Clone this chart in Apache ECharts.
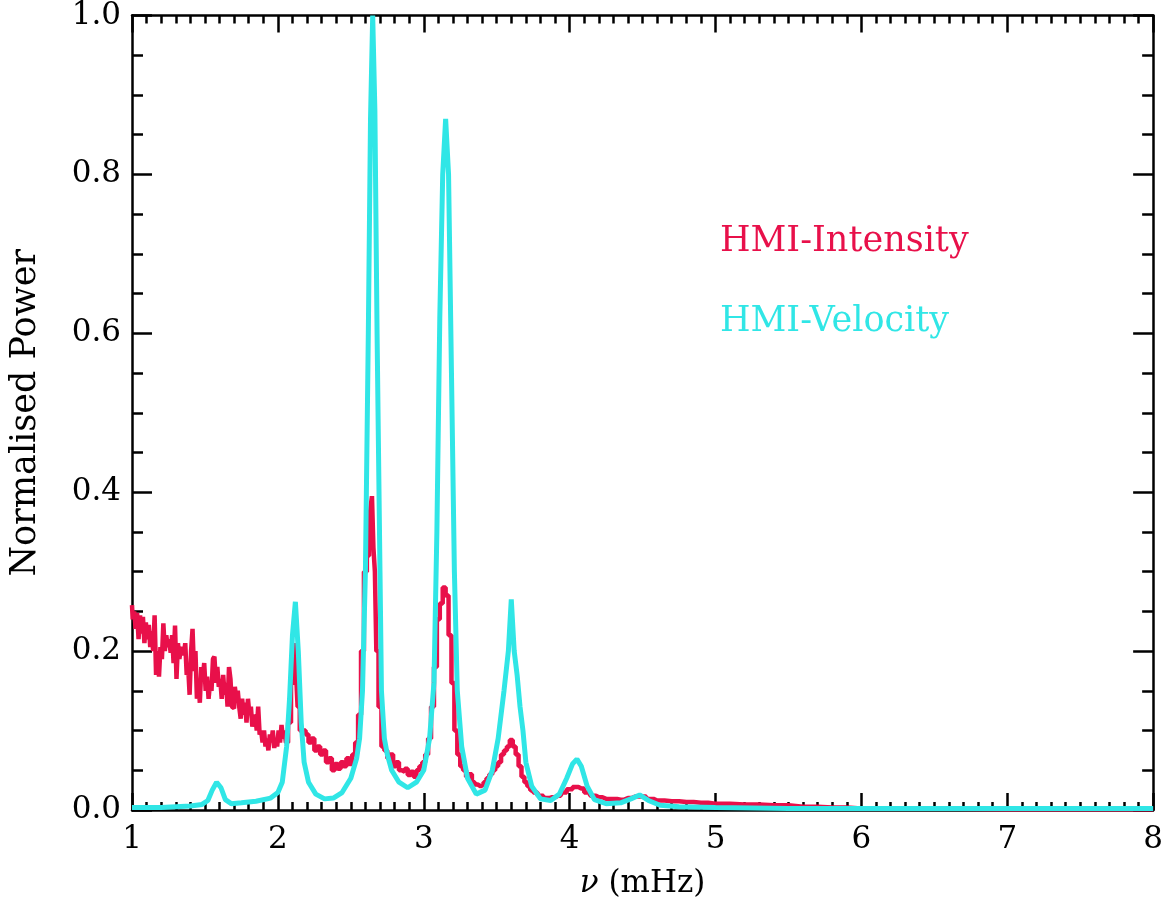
<!DOCTYPE html>
<html>
<head>
<meta charset="utf-8">
<script src="https://cdn.jsdelivr.net/npm/echarts@6/dist/echarts.min.js"></script>
<style>
html,body{margin:0;padding:0;background:#fff;}
#chart{width:1166px;height:905px;}
</style>
</head>
<body>
<div id="chart"></div>
<script>
// ---- data (frequency in mHz, normalised power) ----
const seriesNames = ['HMI-Intensity', 'HMI-Velocity'];
const xTicks = [1, 2, 3, 4, 5, 6, 7, 8];
const yTicks = [0.0, 0.2, 0.4, 0.6, 0.8, 1.0];

const intensityFreq = [
  1.00,1.01,1.02,1.03,1.04,1.05,1.06,1.07,1.08,1.09,
  1.10,1.11,1.12,1.13,1.14,1.15,1.16,1.17,1.18,1.19,
  1.20,1.21,1.22,1.23,1.24,1.25,1.26,1.27,1.28,1.29,
  1.30,1.31,1.32,1.33,1.34,1.35,1.36,1.37,1.38,1.39,
  1.40,1.41,1.42,1.43,1.44,1.45,1.46,1.47,1.48,1.49,
  1.50,1.51,1.52,1.53,1.54,1.55,1.56,1.57,1.58,1.59,
  1.60,1.61,1.62,1.63,1.64,1.65,1.66,1.67,1.68,1.69,
  1.70,1.71,1.72,1.73,1.74,1.75,1.76,1.77,1.78,1.79,
  1.80,1.81,1.82,1.83,1.84,1.85,1.86,1.87,1.88,1.89,
  1.90,1.91,1.92,1.93,1.94,1.95,1.96,1.97,1.98,1.99,
  2.00,2.01,2.02,2.03,2.04,2.05,2.06,2.08,2.10,2.11,
  2.12,2.13,2.14,2.16,2.18,2.20,2.22,2.24,2.26,2.28,
  2.30,2.32,2.34,2.36,2.38,2.40,2.42,2.44,2.46,2.48,
  2.50,2.52,2.54,2.56,2.58,2.60,2.62,2.63,2.64,2.65,
  2.66,2.67,2.68,2.70,2.72,2.74,2.76,2.78,2.80,2.82,
  2.84,2.86,2.88,2.90,2.92,2.94,2.96,2.98,3.00,3.02,
  3.04,3.06,3.08,3.10,3.12,3.14,3.16,3.18,3.20,3.22,
  3.24,3.26,3.28,3.30,3.32,3.34,3.36,3.38,3.40,3.42,
  3.44,3.46,3.48,3.50,3.52,3.54,3.56,3.58,3.60,3.62,
  3.64,3.66,3.68,3.70,3.72,3.74,3.76,3.80,3.84,3.88,
  3.92,3.96,4.00,4.04,4.08,4.12,4.16,4.20,4.25,4.30,
  4.35,4.40,4.45,4.50,4.55,4.60,4.70,4.80,4.90,5.00,
  5.20,5.40,5.60,5.80,6.00,7.00,8.00
];
const intensity = [
  0.258,0.240,0.250,0.228,0.248,0.215,0.245,0.222,0.243,0.210,
  0.236,0.215,0.233,0.205,0.225,0.200,0.245,0.170,0.200,0.168,
  0.205,0.190,0.235,0.200,0.220,0.205,0.215,0.198,0.220,0.185,
  0.232,0.165,0.210,0.190,0.205,0.200,0.195,0.210,0.170,0.180,
  0.145,0.200,0.228,0.175,0.200,0.140,0.165,0.135,0.180,0.165,
  0.185,0.150,0.168,0.140,0.160,0.150,0.190,0.193,0.160,0.180,
  0.155,0.165,0.140,0.170,0.145,0.160,0.130,0.180,0.165,0.130,
  0.128,0.155,0.140,0.150,0.130,0.115,0.140,0.120,0.135,0.110,
  0.140,0.120,0.130,0.105,0.115,0.120,0.100,0.130,0.095,0.100,
  0.085,0.100,0.080,0.090,0.075,0.095,0.085,0.100,0.078,0.090,
  0.080,0.100,0.085,0.107,0.090,0.100,0.085,0.110,0.160,0.190,
  0.210,0.170,0.130,0.100,0.100,0.095,0.085,0.090,0.075,0.080,
  0.070,0.075,0.060,0.065,0.050,0.058,0.052,0.060,0.055,0.065,
  0.058,0.070,0.085,0.120,0.200,0.300,0.320,0.360,0.380,0.395,
  0.330,0.300,0.200,0.130,0.080,0.075,0.065,0.070,0.055,0.060,
  0.050,0.048,0.052,0.044,0.048,0.042,0.050,0.055,0.060,0.070,
  0.090,0.130,0.180,0.240,0.260,0.280,0.270,0.220,0.160,0.100,
  0.070,0.055,0.050,0.042,0.045,0.035,0.032,0.030,0.032,0.035,
  0.040,0.045,0.050,0.055,0.060,0.070,0.075,0.080,0.088,0.080,
  0.070,0.055,0.042,0.035,0.030,0.025,0.022,0.018,0.015,0.016,
  0.018,0.022,0.026,0.029,0.027,0.022,0.018,0.016,0.014,0.014,
  0.013,0.015,0.017,0.017,0.014,0.012,0.011,0.010,0.009,0.008,
  0.007,0.006,0.004,0.003,0.002,0.001,0.001
];

const velocityFreq = [
  1.00,1.10,1.20,1.30,1.40,1.48,1.52,1.55,1.58,1.61,
  1.64,1.68,1.75,1.85,1.95,2.00,2.03,2.06,2.08,2.10,
  2.12,2.14,2.16,2.18,2.21,2.26,2.32,2.38,2.44,2.50,
  2.54,2.56,2.58,2.60,2.62,2.635,2.65,2.665,2.68,2.70,
  2.71,2.73,2.75,2.78,2.83,2.89,2.95,3.00,3.04,3.07,
  3.09,3.11,3.13,3.15,3.17,3.19,3.21,3.23,3.26,3.30,
  3.36,3.42,3.47,3.51,3.55,3.58,3.60,3.62,3.64,3.66,
  3.68,3.70,3.74,3.80,3.87,3.93,3.98,4.02,4.05,4.08,
  4.12,4.17,4.25,4.35,4.42,4.48,4.54,4.62,4.75,5.00,
  5.50,6.00,7.00,8.00
];
const velocity = [
  0.003,0.003,0.003,0.004,0.005,0.007,0.012,0.025,0.035,0.028,
  0.013,0.008,0.009,0.011,0.015,0.022,0.035,0.080,0.140,0.220,
  0.262,0.200,0.110,0.060,0.035,0.020,0.014,0.015,0.022,0.040,
  0.065,0.090,0.150,0.300,0.600,0.870,1.000,0.880,0.600,0.300,
  0.150,0.090,0.070,0.050,0.035,0.028,0.035,0.050,0.090,0.160,
  0.350,0.620,0.800,0.870,0.800,0.550,0.300,0.150,0.080,0.040,
  0.020,0.025,0.050,0.090,0.150,0.200,0.265,0.200,0.170,0.130,
  0.100,0.060,0.030,0.014,0.012,0.020,0.040,0.058,0.064,0.055,
  0.030,0.013,0.008,0.009,0.014,0.019,0.012,0.006,0.004,0.003,
  0.002,0.002,0.002,0.002
];

const colors = ['#e8104a', '#30e6e6'];
const FONT = 'DejaVu Serif';

function pairs(xs, ys) { return xs.map((x, i) => [x, ys[i]]); }

const chart = echarts.init(document.getElementById('chart'), null, {renderer: 'canvas'});
const tickStyle = {color: '#000', width: 2.5};
const xMin = xTicks[0], xMax = xTicks[xTicks.length - 1];
const yMin = yTicks[0], yMax = yTicks[yTicks.length - 1];

function xAxisDef(position, interval, tickLen, withLine, labels) {
  const a = {
    type: 'value', position: position, min: xMin, max: xMax, interval: interval,
    axisLine: {show: withLine, onZero: false, lineStyle: tickStyle},
    splitLine: {show: false},
    axisTick: {show: true, inside: true, length: tickLen, lineStyle: tickStyle},
    axisLabel: {show: false}
  };
  if (labels) {
    a.axisLabel = {show: true, margin: 14, fontFamily: FONT, fontSize: 31, color: '#000',
      formatter: v => String(v)};
    a.name = '{nu|ν} (mHz)';
    a.nameLocation = 'middle';
    a.nameGap = 58;
    a.nameTextStyle = {fontFamily: FONT, fontSize: 31, color: '#000',
      rich: {nu: {fontFamily: FONT, fontSize: 31, fontStyle: 'italic', color: '#000'}}};
  }
  return a;
}
function yAxisDef(position, interval, tickLen, withLine, labels) {
  const a = {
    type: 'value', position: position, min: yMin, max: yMax, interval: interval,
    axisLine: {show: withLine, onZero: false, lineStyle: tickStyle},
    splitLine: {show: false},
    axisTick: {show: true, inside: true, length: tickLen, lineStyle: tickStyle},
    axisLabel: {show: false}
  };
  if (labels) {
    a.axisLabel = {show: true, margin: 11, fontFamily: FONT, fontSize: 31, color: '#000',
      formatter: v => v.toFixed(1)};
    a.name = 'Normalised Power';
    a.nameLocation = 'middle';
    a.nameGap = 89;
    a.nameRotate = 90;
    a.nameTextStyle = {fontFamily: FONT, fontSize: 35, color: '#000'};
  }
  return a;
}

chart.setOption({
  animation: false,
  backgroundColor: '#fff',
  grid: {left: 131, right: 9, top: 10, bottom: 95, containLabel: false},
  legend: {
    orient: 'vertical', left: 710, top: 219, icon: 'none',
    itemWidth: 0, itemHeight: 14, itemGap: 44,
    selectedMode: false,
    textStyle: {fontFamily: FONT, fontSize: 35, lineHeight: 36},
    data: [
      {name: seriesNames[0], textStyle: {color: colors[0]}},
      {name: seriesNames[1], textStyle: {color: colors[1]}}
    ]
  },
  xAxis: [
    xAxisDef('bottom', 1, 17, true, true),
    xAxisDef('top', 1, 17, true, false),
    xAxisDef('bottom', 0.1, 8, false, false),
    xAxisDef('top', 0.1, 8, false, false)
  ],
  yAxis: [
    yAxisDef('left', 0.2, 20, true, true),
    yAxisDef('right', 0.2, 20, true, false),
    yAxisDef('left', 0.05, 11, false, false),
    yAxisDef('right', 0.05, 11, false, false)
  ],
  series: [
    {
      name: seriesNames[0], type: 'line', xAxisIndex: 0, yAxisIndex: 0,
      data: pairs(intensityFreq, intensity), step: 'middle',
      showSymbol: false, symbol: 'none', z: 2,
      lineStyle: {color: colors[0], width: 4.5}, itemStyle: {color: colors[0]}
    },
    {
      name: seriesNames[1], type: 'line', xAxisIndex: 0, yAxisIndex: 0,
      data: pairs(velocityFreq, velocity),
      showSymbol: false, symbol: 'none', z: 3,
      lineStyle: {color: colors[1], width: 5}, itemStyle: {color: colors[1]}
    }
  ]
});
</script>
</body>
</html>
